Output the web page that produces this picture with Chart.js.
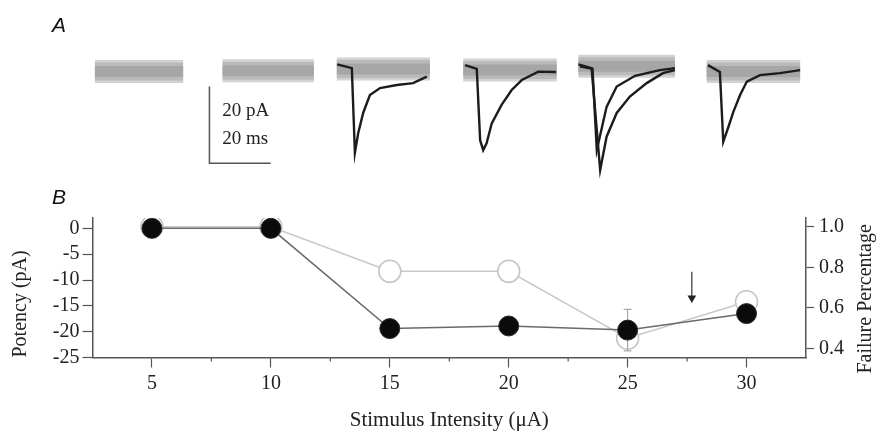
<!DOCTYPE html>
<html>
<head>
<meta charset="utf-8">
<script src="https://cdn.jsdelivr.net/npm/chart.js@4"></script>
<style>
  html, body { margin: 0; padding: 0; background: #fff; }
  #wrap { position: relative; width: 888px; height: 433px; overflow: hidden; }
  canvas { position: absolute; left: 0; top: 0; }
  .panel { position: absolute; font-family: 'Liberation Sans', Arial, sans-serif; font-style: italic; font-size: 21px; line-height: 21px; color: #111; }
</style>
</head>
<body>
<div id="wrap">
  <canvas id="tracesChart" width="888" height="180"></canvas>
  <canvas id="potencyChart" width="888" height="433"></canvas>
  <div class="panel" style="left:52px; top:14px;">A</div>
  <div class="panel" style="left:52px; top:186px;">B</div>
</div>
<script>
// ---- panel A: example sweeps (time in ms, current in pA) ----
const bandStart = [31.0, 72.7, 110.0, 151.3, 188.9, 230.8];
const bandEnd = [59.8, 102.5, 140.4, 181.8, 220.4, 261.3];
const bandLevel = [-0.4, -0.2, 0.3, 0, 1.0, -0.4];

const sweep15Time = [110.1, 114.9, 115.9, 117.0, 118.6, 120.8, 124.1, 129.6, 134.9, 139.4];
const sweep15Amp = [1.5, 0.5, -21.6, -16.4, -11.2, -6.5, -4.7, -3.9, -3.4, -1.7];

const sweep20Time = [151.9, 155.7, 156.8, 157.8, 158.9, 160.6, 163.8, 167.1, 170.4, 175.8, 181.6];
const sweep20Amp = [1.3, 0.3, -18.3, -20.9, -19.1, -13.9, -9.1, -5.2, -2.6, -0.4, -0.5];

const sweep25aTime = [188.9, 193.2, 196.0, 198.1, 201.4, 205.7, 211.2, 216.5, 220.4];
const sweep25aAmp = [1.5, 0.5, -26.1, -17.4, -11.2, -6.9, -3.4, -0.8, 0];
const sweep25bTime = [189.4, 193.5, 194.9, 198.1, 201.4, 207.4, 215.5, 220.4];
const sweep25bAmp = [1.0, 0.3, -20.9, -9.6, -4.3, -1.5, 0, 0.5];

const sweep30Time = [231.2, 235.1, 236.2, 237.9, 239.5, 241.7, 243.9, 248.2, 254.7, 261.3];
const sweep30Amp = [1.3, -0.5, -18.7, -14.8, -10.9, -6.5, -3.0, -1.3, -0.8, 0];

const scaleBarTime = [68.4, 68.4, 88.4];
const scaleBarAmp = [-4.3, -24.3, -24.3];

// ---- panel B: potency and failure vs stimulus ----
const stimulus = [5, 10, 15, 20, 25, 30];
const potency = [0, 0, -19.4, -18.9, -19.7, -16.5];
const failure = [1.0, 1.0, 0.78, 0.78, 0.45, 0.63];
const errStimulus = 25;
const errPotency = -19.7;
const errSize = 4.0;
const arrowStimulus = 27.7;
const arrowLevels = [-8.4, -13.5];

const xMajorTicks = [5, 10, 15, 20, 25, 30];
const xMinorTicks = [7.5, 12.5, 17.5, 22.5, 27.5];
const potencyTicks = [-25, -20, -15, -10, -5, 0];
const failureTicks = [0.4, 0.6, 0.8, 1.0];

Chart.defaults.font.family = "'Liberation Serif', 'Times New Roman', serif";
Chart.defaults.color = '#222';

function pairs(xs, ys) {
    return xs.map((x, i) => ({ x: x, y: ys[i] }));
}

// traces: lower order is drawn on top
const traceSets = [];

bandStart.forEach((s, i) => {
    traceSets.push({
        data: [{ x: s, y: bandLevel[i] }, { x: bandEnd[i], y: bandLevel[i] }],
        borderColor: '#d2d2d2', borderWidth: 23, pointRadius: 0, order: 4
    });
    traceSets.push({
        data: [{ x: s, y: bandLevel[i] }, { x: bandEnd[i], y: bandLevel[i] }],
        borderColor: '#bababa', borderWidth: 18, pointRadius: 0, order: 3
    });
    traceSets.push({
        data: [{ x: s, y: bandLevel[i] }, { x: bandEnd[i], y: bandLevel[i] }],
        borderColor: '#a6a6a6', borderWidth: 11, pointRadius: 0, order: 2
    });
});

[
    [sweep15Time, sweep15Amp],
    [sweep20Time, sweep20Amp],
    [sweep25aTime, sweep25aAmp],
    [sweep25bTime, sweep25bAmp],
    [sweep30Time, sweep30Amp]
].forEach(t => {
    traceSets.push({
        data: pairs(t[0], t[1]),
        borderColor: '#1c1c1c', borderWidth: 2.4, pointRadius: 0, order: 1
    });
});

traceSets.push({
    data: pairs(scaleBarTime, scaleBarAmp),
    borderColor: '#555', borderWidth: 1.5, pointRadius: 0, order: 0
});

const scaleBarLabels = {
    id: 'scaleBarLabels',
    afterDraw(chart) {
        const ctx = chart.ctx;
        const x = chart.scales.x.getPixelForValue(scaleBarTime[0] + 4.2);
        ctx.save();
        ctx.font = "19px 'Liberation Serif', serif";
        ctx.fillStyle = '#222';
        ctx.textBaseline = 'middle';
        ctx.fillText('20 pA', x, chart.scales.y.getPixelForValue(-10.7));
        ctx.fillText('20 ms', x, chart.scales.y.getPixelForValue(-18.0));
        ctx.restore();
    }
};

new Chart(document.getElementById('tracesChart'), {
    type: 'line',
    data: { datasets: traceSets },
    options: {
        responsive: false,
        animation: false,
        events: [],
        layout: { padding: 0 },
        plugins: { legend: { display: false }, tooltip: { enabled: false } },
        scales: {
            x: { type: 'linear', display: false, min: 0, max: 290 },
            y: { type: 'linear', display: false, min: -28.7, max: 18.3 }
        }
    },
    plugins: [scaleBarLabels]
});

// potency / failure chart
const minorTicks = {
    id: 'minorTicks',
    afterDraw(chart) {
        const ctx = chart.ctx;
        const y0 = chart.chartArea.bottom;
        ctx.save();
        ctx.strokeStyle = '#555';
        ctx.lineWidth = 1.2;
        xMinorTicks.forEach(v => {
            const px = chart.scales.x.getPixelForValue(v);
            ctx.beginPath();
            ctx.moveTo(px, y0);
            ctx.lineTo(px, y0 + 4);
            ctx.stroke();
        });
        ctx.restore();
    }
};

// Chart.js turns a right-hand title the other way, so draw it here
const rightTitle = {
    id: 'rightTitle',
    afterDraw(chart) {
        const ctx = chart.ctx;
        ctx.save();
        ctx.translate(chart.scales.yFail.right - 22, chart.chartArea.bottom + 16);
        ctx.rotate(-Math.PI / 2);
        ctx.font = "20px 'Liberation Serif', serif";
        ctx.fillStyle = '#222';
        ctx.textAlign = 'left';
        ctx.textBaseline = 'middle';
        ctx.fillText('Failure Percentage', 0, 0);
        ctx.restore();
    }
};

new Chart(document.getElementById('potencyChart'), {
    type: 'line',
    data: {
        datasets: [
            {
                label: 'Potency',
                data: pairs(stimulus, potency),
                yAxisID: 'yPot',
                borderColor: '#6a6a6a',
                borderWidth: 1.5,
                pointRadius: 10,
                pointBackgroundColor: '#0b0b0b',
                pointBorderColor: '#2a2a2a',
                pointBorderWidth: 1,
                order: 0
            },
            {
                label: 'Error',
                data: [
                    { x: errStimulus, y: errPotency + errSize },
                    { x: errStimulus, y: errPotency - errSize }
                ],
                yAxisID: 'yPot',
                borderColor: '#aaa',
                borderWidth: 1.2,
                pointStyle: 'line',
                pointRadius: 4,
                pointBorderColor: '#aaa',
                pointBorderWidth: 1.2,
                order: 1
            },
            {
                label: 'Failure',
                data: pairs(stimulus, failure),
                yAxisID: 'yFail',
                borderColor: '#c8c8c8',
                borderWidth: 1.5,
                pointRadius: 11,
                pointBackgroundColor: '#fff',
                pointBorderColor: '#c4c4c4',
                pointBorderWidth: 1.5,
                order: 2
            },
            {
                label: 'Arrow',
                data: arrowLevels.map(v => ({ x: arrowStimulus, y: v })),
                yAxisID: 'yPot',
                borderColor: '#333',
                borderWidth: 1.2,
                pointStyle: 'triangle',
                pointRotation: 180,
                pointRadius: [0, 5],
                pointBackgroundColor: '#222',
                pointBorderWidth: 0,
                order: 3
            }
        ]
    },
    options: {
        responsive: false,
        animation: false,
        events: [],
        layout: { padding: { top: 218, left: 0, right: 0, bottom: 0 } },
        plugins: { legend: { display: false }, tooltip: { enabled: false } },
        scales: {
            x: {
                type: 'linear',
                position: 'bottom',
                min: 2.5,
                max: 32.5,
                afterBuildTicks: s => { s.ticks = xMajorTicks.map(v => ({ value: v })); },
                afterFit: s => { s.height = 75.5; },
                grid: { drawOnChartArea: false, tickLength: 10, tickColor: '#555', tickWidth: 1.2 },
                border: { display: true, color: '#555', width: 1.5 },
                ticks: { padding: 4, font: { size: 20 }, maxRotation: 0, autoSkip: false },
                title: {
                    display: true,
                    text: 'Stimulus Intensity (μA)',
                    font: { size: 21 },
                    padding: { top: 0, bottom: 0 }
                }
            },
            yPot: {
                type: 'linear',
                position: 'left',
                min: -25,
                max: 2,
                afterBuildTicks: s => { s.ticks = potencyTicks.map(v => ({ value: v })); },
                afterFit: s => { s.width = 92.5; },
                grid: { drawOnChartArea: false, tickLength: 10, tickColor: '#555', tickWidth: 1.2 },
                border: { display: true, color: '#555', width: 1.5 },
                ticks: { padding: 3, font: { size: 20 } },
                title: {
                    display: true,
                    text: 'Potency (pA)',
                    align: 'start',
                    font: { size: 20 },
                    padding: { top: 9, bottom: 0 }
                }
            },
            yFail: {
                type: 'linear',
                position: 'right',
                min: 0.355,
                max: 1.043,
                afterBuildTicks: s => { s.ticks = failureTicks.map(v => ({ value: v })); },
                afterFit: s => { s.width = 82; },
                grid: { drawOnChartArea: false, tickLength: 8, tickColor: '#555', tickWidth: 1.2 },
                border: { display: true, color: '#555', width: 1.5 },
                ticks: { padding: 5, font: { size: 20 }, callback: v => v.toFixed(1) }
            }
        }
    },
    plugins: [minorTicks, rightTitle]
});
</script>
</body>
</html>
